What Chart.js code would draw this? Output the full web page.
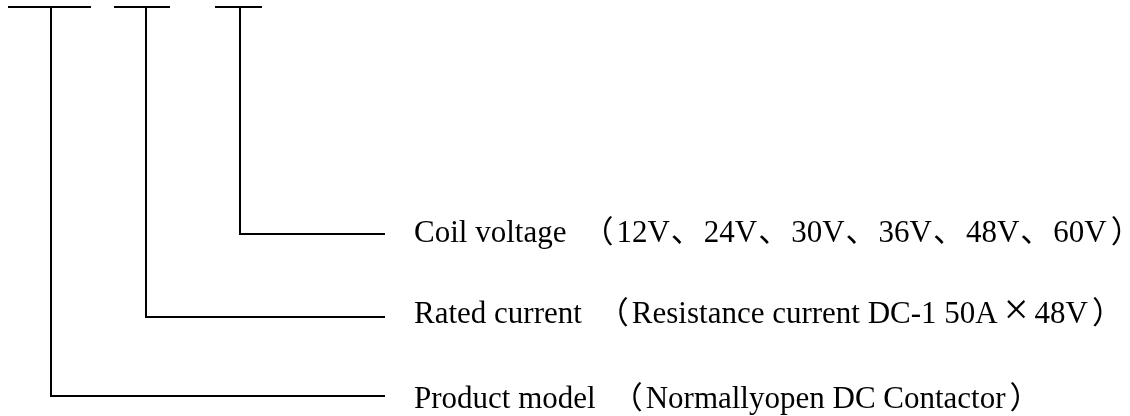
<!DOCTYPE html>
<html>
<head>
<meta charset="utf-8">
<script src="https://cdn.jsdelivr.net/npm/chart.js@4.4.1/dist/chart.umd.min.js"></script>
<style>
  html, body { margin: 0; padding: 0; background: #fff; }
  #wrap { width: 1130px; height: 416px; }
</style>
</head>
<body>
<div id="wrap"><canvas id="chart" width="1130" height="416"></canvas></div>
<script>
// rows, from the outer (lowest) branch to the inner one
const names = ["Product model", "Rated current", "Coil voltage"];
const details = ["Normallyopen DC Contactor", "Resistance current DC-1 50A×48V", "12V、24V、30V、36V、48V、60V"];

// tee bars on top: left / right end of each bar, and where its stem drops
const barLeft = [8, 114, 215];
const barRight = [91, 170, 262];
const stemX = [51, 146, 240];
const topY = 7;
// level of each branch and where the leader ends
const levelY = [396, 317, 234];
const leaderEnd = 385;
// text: start and baseline
const textX = 414;
const textBase = [408, 323, 242];

const LATIN = "31px 'Liberation Serif'";
const CJK = "31px 'Noto Sans CJK SC'";

const datasets = names.map((n, i) => ({
    label: n + " stem",
    data: [{ x: stemX[i], y: topY }, { x: stemX[i], y: levelY[i] }, { x: leaderEnd, y: levelY[i] }]
}));
names.forEach((n, i) => {
    datasets.push({
        label: n + " bar",
        data: [{ x: barLeft[i], y: topY }, { x: barRight[i], y: topY }]
    });
});
datasets.forEach(ds => {
    ds.showLine = true;
    ds.borderColor = "#000";
    ds.borderWidth = 2;
    ds.pointRadius = 0;
    ds.fill = false;
    ds.tension = 0;
});

// draws latin runs in the serif, full width marks wider, returns end x
function drawRun(ctx, s, x, y) {
    let run = "";
    const flush = () => {
        if (!run) return;
        ctx.font = LATIN;
        ctx.fillText(run, x, y);
        x += ctx.measureText(run).width;
        run = "";
    };
    for (const ch of s) {
        if (ch === "、") {
            flush();
            ctx.font = CJK;
            ctx.fillText(ch, x + 1, y);
            x += ctx.measureText(ch).width + 3;
        } else if (ch === "×") {
            flush();
            ctx.font = "44px 'Liberation Serif'";
            ctx.fillText(ch, x + 6, y + 1);
            x += ctx.measureText(ch).width + 12;
        } else {
            run += ch;
        }
    }
    flush();
    return x;
}

const labelPlugin = {
    id: "rowLabels",
    afterDraw(chart) {
        const ctx = chart.ctx;
        const xs = chart.scales.x, ys = chart.scales.y;
        ctx.save();
        ctx.fillStyle = "#000";
        ctx.textBaseline = "alphabetic";
        names.forEach((n, i) => {
            const x = xs.getPixelForValue(textX);
            const y = ys.getPixelForValue(textBase[i]);
            ctx.font = LATIN;
            ctx.fillText(n, x, y);
            const cx = x + ctx.measureText(n).width + 37;
            ctx.font = CJK;
            const op = ctx.measureText("（");
            ctx.fillText("（", cx + op.actualBoundingBoxLeft, y);
            const end = drawRun(ctx, details[i], cx + 13, y);
            ctx.font = CJK;
            ctx.fillText("）", end + 4, y);
        });
        ctx.restore();
    }
};

new Chart(document.getElementById("chart").getContext("2d"), {
    type: "scatter",
    data: { datasets: datasets },
    options: {
        responsive: false,
        animation: false,
        layout: { padding: 0 },
        plugins: { legend: { display: false }, tooltip: { enabled: false } },
        scales: {
            x: { type: "linear", min: 0, max: 1130, display: false },
            y: { type: "linear", min: 0, max: 416, reverse: true, display: false }
        }
    },
    plugins: [labelPlugin]
});
</script>
</body>
</html>
